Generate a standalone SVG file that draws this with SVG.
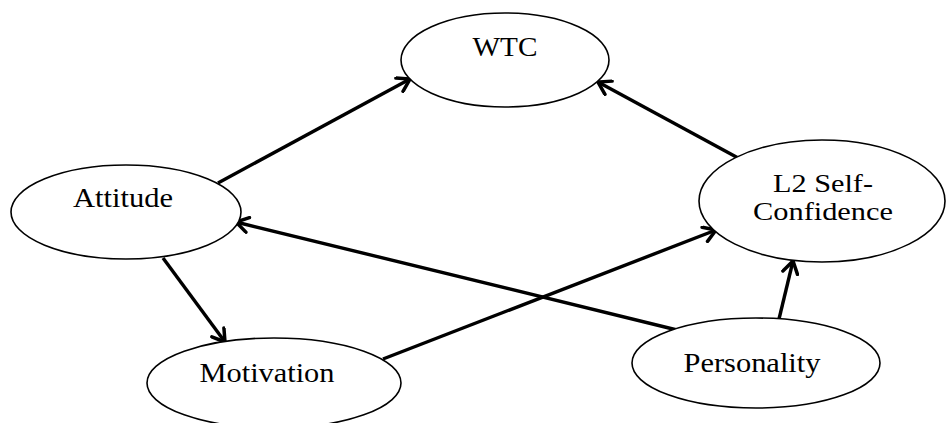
<svg xmlns="http://www.w3.org/2000/svg" width="947" height="423" viewBox="0 0 947 423">
<defs>
<marker id="arr" markerUnits="userSpaceOnUse" viewBox="-14 -9 16 18" refX="0" refY="0" markerWidth="16" markerHeight="18" orient="auto">
<path d="M -12 -7.5 L 0 0 L -12 7.5" fill="none" stroke="#000" stroke-width="3.5" stroke-linecap="round" stroke-linejoin="miter"/>
</marker>
</defs>
<style>
.node ellipse { fill: #fff; stroke: #000; stroke-width: 1.6; }
.node text { font-family: "Liberation Serif", "Times New Roman", serif; font-size: 27px; fill: #000; text-anchor: middle; }
.node text.two { font-size: 25px; }
.edges line { stroke: #000; stroke-width: 3.4; marker-end: url(#arr); }
</style>
<rect width="947" height="423" fill="#fff"/>
<g class="edges">
<line x1="218" y1="183" x2="410" y2="79"/>
<line x1="740" y1="159" x2="598" y2="82"/>
<line x1="677" y1="330" x2="236" y2="222"/>
<line x1="383" y1="359" x2="716" y2="230"/>
<line x1="163" y1="258" x2="225" y2="342"/>
<line x1="779" y1="319" x2="793" y2="261"/>
</g>
<g id="wtc" class="node">
<ellipse cx="505" cy="60" rx="104" ry="47"/>
<text x="505" y="56" textLength="65" lengthAdjust="spacingAndGlyphs">WTC</text>
</g>
<g id="attitude" class="node">
<ellipse cx="126" cy="212" rx="115" ry="47"/>
<text x="123" y="207" textLength="100" lengthAdjust="spacingAndGlyphs">Attitude</text>
</g>
<g id="l2" class="node">
<ellipse cx="822" cy="201" rx="123" ry="61"/>
<text class="two" x="823" y="192" textLength="100" lengthAdjust="spacingAndGlyphs">L2 Self-</text>
<text class="two" x="823" y="220" textLength="140" lengthAdjust="spacingAndGlyphs">Confidence</text>
</g>
<g id="motivation" class="node">
<ellipse cx="274" cy="383" rx="127" ry="45"/>
<text x="267" y="382" textLength="135" lengthAdjust="spacingAndGlyphs">Motivation</text>
</g>
<g id="personality" class="node">
<ellipse cx="756" cy="363" rx="124" ry="45"/>
<text x="752" y="372" textLength="137" lengthAdjust="spacingAndGlyphs">Personality</text>
</g>
</svg>
